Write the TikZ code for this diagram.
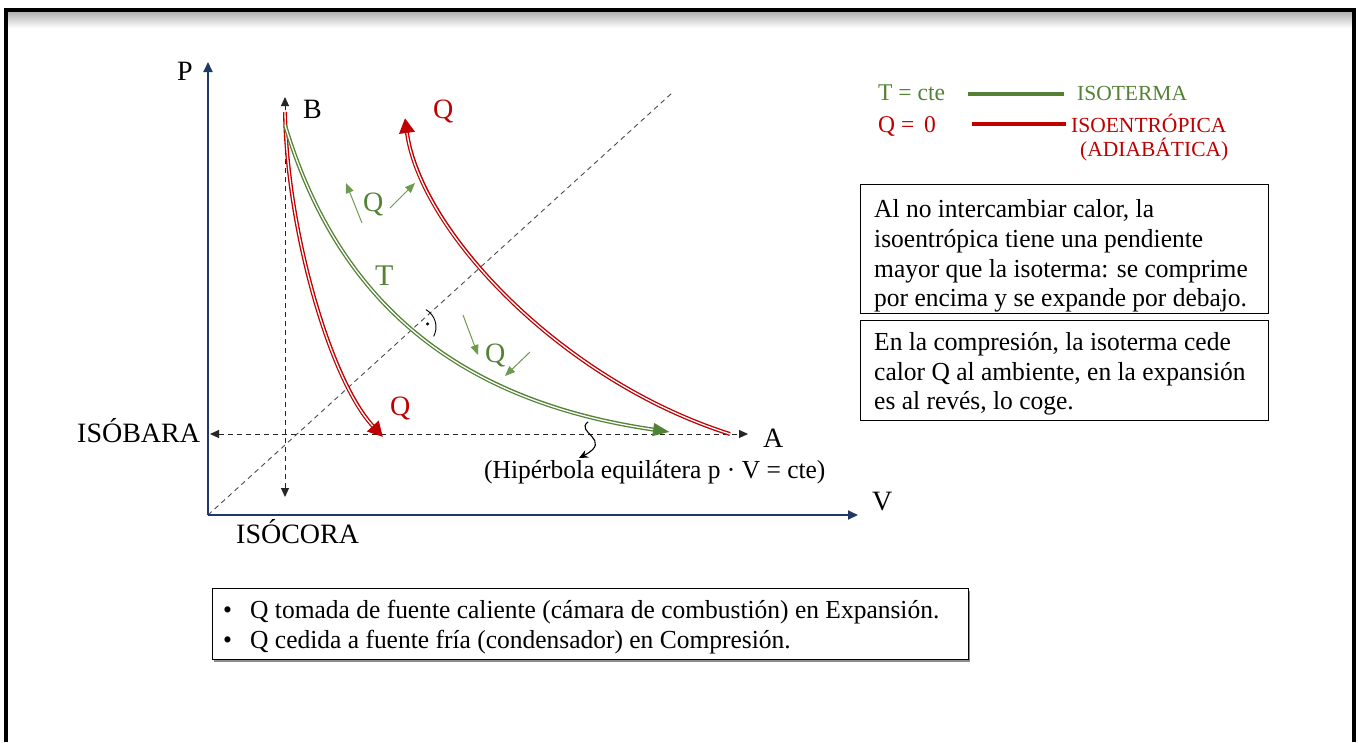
\documentclass[tikz,border=0pt]{standalone}
\usepackage{fontspec}
\setmainfont{Liberation Serif}[FakeStretch=0.98]
\newfontfamily\lblfont{Liberation Serif}
\usetikzlibrary{arrows.meta}
\definecolor{grn}{HTML}{548235}
\definecolor{lgrn}{HTML}{6E9A4F}
\definecolor{rd}{HTML}{C00000}
\definecolor{axb}{HTML}{203864}
\begin{document}
\begin{tikzpicture}[x=1pt,y=-1pt,
  axis/.style={axb, line width=1.8pt, -{Triangle[length=10pt,width=9pt]}},
  dsh/.style={black!85, line width=1pt, dash pattern=on 5pt off 4pt},
  smalltip/.style={{Triangle[length=9pt,width=8pt]}-{Triangle[length=9pt,width=8pt]}},
  redouter/.style={rd, line width=4pt, -{Triangle[length=15pt,width=15pt]}},
  redinner/.style={white, line width=1.3pt, shorten >=15pt},
  grnouter/.style={grn, line width=4pt, -{Triangle[length=17pt,width=12pt]}},
  grninner/.style={white, line width=1.3pt, shorten >=17pt},
  qarrow/.style={lgrn, line width=1pt, -{Triangle[length=10pt,width=8pt]}},
  lbl/.style={font=\lblfont\fontsize{28}{30}\selectfont, inner sep=0, anchor=base west},
  txt/.style={font=\fontsize{26}{30}\selectfont, inner sep=0, anchor=base west},
  leg/.style={font=\lblfont\fontsize{21.5}{24}\selectfont, inner sep=0, anchor=base west},
  legt/.style={font=\fontsize{24}{26}\selectfont, inner sep=0, anchor=base west},
  boxst/.style={draw, line width=1.4pt, anchor=north west, inner sep=0, fill=white}
]
\useasboundingbox (0,0) rectangle (1358,742);
\fill[white] (0,0) rectangle (1358,742);
% frame
\shade[top color=black!30, bottom color=white] (7,12) rectangle (1353,28);
\draw[line width=3.5pt] (6,742) -- (6,10) -- (1354,10) -- (1354,742);

% coordinates
\coordinate (O) at (208,515);
\coordinate (Ptip) at (208,62);
\coordinate (Vtip) at (858,515);
\coordinate (D) at (672,93);
\coordinate (Btop) at (285,97);
\coordinate (Bbot) at (285,497);
\coordinate (Il) at (210,434);
\coordinate (Ir) at (748,434);

% dashed helper lines
\draw[black!70, line width=0.9pt, dash pattern=on 5pt off 4pt] (O) -- (D);
\draw[dsh, smalltip] (Bbot) -- (Btop);
\draw[dsh, smalltip] (Il) -- (Ir);

% axes
\draw[axis] (O) -- (Ptip);
\draw[axis] (O) -- (Vtip);

% curves
\coordinate (a1s) at (285,112);
\coordinate (a1e) at (383,437);
\coordinate (ts) at (285,125);
\coordinate (te) at (670,432);
\coordinate (a2s) at (730,434);
\coordinate (a2e) at (405,118);

\draw[redouter] (a1s) .. controls (287,230) and (330,380) .. (a1e);
\draw[redinner] (a1s) .. controls (287,230) and (330,380) .. (a1e);
\draw[redouter] (a2s) .. controls (560,380) and (420,230) .. (a2e);
\draw[redinner] (a2s) .. controls (560,380) and (420,230) .. (a2e);
\draw[grnouter] (ts) .. controls (336,295) and (450,400) .. (te);
\draw[grninner] (ts) .. controls (336,295) and (450,400) .. (te);

% right angle mark
\coordinate (I) at (416,327);
\draw[line width=0.9pt] (I) ++(-60:20) arc[start angle=-60, end angle=28, radius=20];
\fill (I) ++(-15:12) circle[radius=1.7];

% small heat arrows
\coordinate (q1s) at (362,223); \coordinate (q1e) at (346,183);
\coordinate (q2s) at (390,208); \coordinate (q2e) at (415,183);
\coordinate (q3s) at (463,315); \coordinate (q3e) at (478,355);
\coordinate (q4s) at (530,352); \coordinate (q4e) at (505,376);
\draw[qarrow] (q1s) -- (q1e);
\draw[qarrow] (q2s) -- (q2e);
\draw[qarrow] (q3s) -- (q3e);
\draw[qarrow] (q4s) -- (q4e);

% squiggle
\coordinate (sq1) at (588,422);
\coordinate (sq2) at (579,458);
\draw[line width=1.1pt, -{Stealth[length=9pt,width=8pt]}] (sq1) .. controls (574,432) and (614,440) .. (sq2);

% labels
\node[lbl] (lP) at (177,80) {P};
\node[lbl] (lB) at (303,118) {B};
\node[lbl] (lA) at (763,447) {A};
\node[lbl] (lV) at (872,510) {V};
\node[lbl] (lisob) at (77,442) {ISÓBARA};
\node[lbl] (lisoc) at (236,543) {ISÓCORA};
\node[lbl, text=rd] (lQ1) at (433,118) {Q};
\node[lbl, text=rd] (lQ2) at (390,415) {Q};
\node[lbl, text=grn] (lQ3) at (363,211) {Q};
\node[lbl, text=grn] (lQ4) at (485,362) {Q};
\node[lbl, text=grn, font=\lblfont\fontsize{30}{32}\selectfont] (lT) at (375,285) {T};
\node[txt] (lhip) at (484,478) {(Hipérbola equilátera p · V = cte)};

% legend
\node[legt, text=grn] (lg1) at (878,100) {T = cte};
\coordinate (lg1a) at (968,94); \coordinate (lg1b) at (1064,94);
\draw[grn, line width=3.4pt] (lg1a) -- (lg1b);
\node[leg, text=grn] (lg1t) at (1077,100) {ISOTERMA};
\node[legt, text=rd] (lg2) at (878,132) {Q =\, 0};
\coordinate (lg2a) at (972,124); \coordinate (lg2b) at (1066,124);
\draw[rd, line width=3.4pt] (lg2a) -- (lg2b);
\node[leg, text=rd] (lg2t) at (1071,132) {ISOENTRÓPICA};
\node[leg, text=rd] (lg3t) at (1080,156) {(ADIABÁTICA)};

% boxes
\node[boxst, minimum width=408, minimum height=129] (box1) at (860,184) {};
\node[txt] (b1l1) at (874,217) {Al no intercambiar calor, la};
\node[txt] (b1l2) at (874,247) {isoentrópica tiene una pendiente};
\node[txt] (b1l3) at (874,277) {mayor que la isoterma: se comprime};
\node[txt] (b1l4) at (874,306) {por encima y se expande por debajo.};

\node[boxst, minimum width=408, minimum height=100] (box2) at (860,320) {};
\node[txt] (b2l1) at (874,350) {En la compresión, la isoterma cede};
\node[txt] (b2l2) at (874,380) {calor Q al ambiente, en la expansión};
\node[txt] (b2l3) at (874,409) {es al revés, lo coge.};

\fill[black!45] (214,591) rectangle (970,662);
\node[boxst, line width=1.2pt, minimum width=756, minimum height=71] (box3) at (212,588) {};
\node[txt] (bu1) at (223,618) {•};
\node[txt] (b3l1) at (250,618) {Q tomada de fuente caliente (cámara de combustión) en Expansión.};
\node[txt] (bu2) at (223,648) {•};
\node[txt] (b3l2) at (250,648) {Q cedida a fuente fría (condensador) en Compresión.};
\end{tikzpicture}
\end{document}
